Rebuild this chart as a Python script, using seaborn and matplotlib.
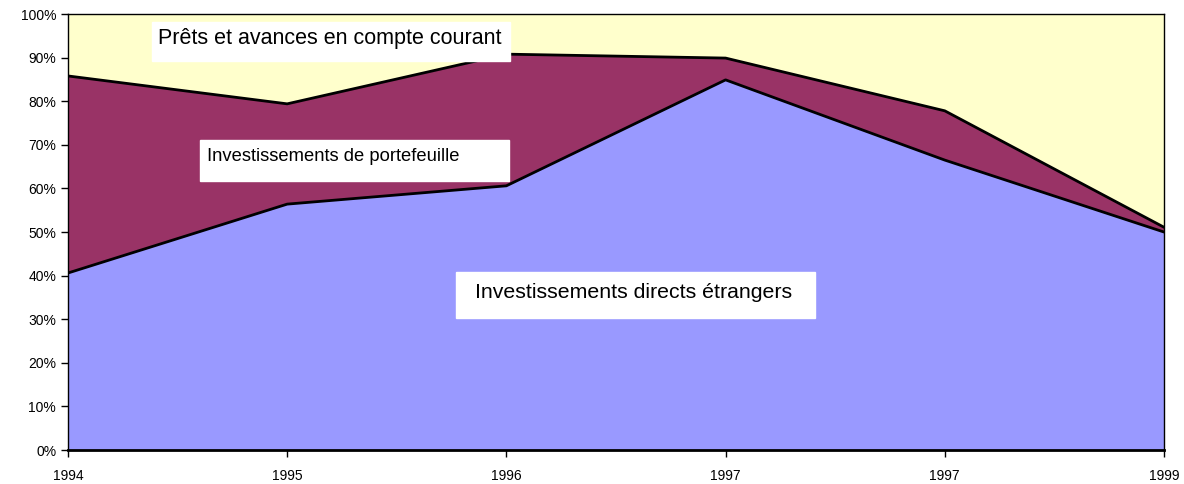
import matplotlib
matplotlib.use("Agg")
import matplotlib.pyplot as plt
from matplotlib.patches import Rectangle
import seaborn as sns
import numpy as np
import pandas as pd

annees = ["1994", "1995", "1996", "1997", "1997", "1999"]
ide = [40.6, 56.4, 60.6, 84.9, 66.5, 50.0]
portefeuille = [45.2, 23.0, 30.2, 5.0, 11.3, 1.1]
prets = [14.2, 20.6, 9.2, 10.1, 22.2, 48.9]

couleurs = ["#9999FF", "#993366", "#FFFFCC"]

sns.set_style("white")
plt.rcParams["font.family"] = ["Liberation Sans", "DejaVu Sans"]
plt.rcParams["text.color"] = "black"

pos = np.arange(len(annees))
df = pd.DataFrame({"pos": pos, "ide": ide,
                   "haut": np.array(ide) + np.array(portefeuille)})

fig = plt.figure(figsize=(11.84, 4.84), dpi=100)
ax = fig.add_axes([0.0574, 0.0702, 0.9257, 0.9008])

ax.stackplot(pos, ide, portefeuille, prets, colors=couleurs, linewidth=0)
sns.lineplot(data=df, x="pos", y="ide", color="black", lw=2, ax=ax)
sns.lineplot(data=df, x="pos", y="haut", color="black", lw=2, ax=ax)

ax.set_xlim(0, len(annees) - 1)
ax.set_ylim(0, 100)
ax.set_xticks(pos)
ax.set_xticklabels(annees)
ax.set_yticks(range(0, 101, 10))
ax.set_yticklabels([f"{v}%" for v in range(0, 101, 10)])
ax.set_xlabel("")
ax.set_ylabel("")
ax.tick_params(axis="both", direction="out", length=5, width=1, color="black",
               labelsize=10, labelcolor="black", bottom=True, left=True)
ax.tick_params(axis="x", pad=9)
for s in ax.spines.values():
    s.set_color("black")
    s.set_linewidth(1)
ax.spines["bottom"].set_linewidth(2)

# étiquettes dans des cadres blancs
ax.add_patch(Rectangle((0.383, 89.2), 1.633, 9.0, facecolor="white", zorder=3))
ax.text(0.41, 94.3, "Prêts et avances en compte courant", fontsize=15.5,
        color="black", va="center", ha="left", zorder=4)
ax.add_patch(Rectangle((0.602, 61.7), 1.41, 9.4, facecolor="white", zorder=3))
ax.text(0.635, 67.4, "Investissements de portefeuille", fontsize=13.2,
        color="black", va="center", ha="left", zorder=4)
ax.add_patch(Rectangle((1.77, 30.3), 1.638, 10.6, facecolor="white", zorder=3))
ax.text(1.857, 36.2, "Investissements directs étrangers", fontsize=15.3,
        color="black", va="center", ha="left", zorder=4)

fig.savefig("out.png", dpi=100)
